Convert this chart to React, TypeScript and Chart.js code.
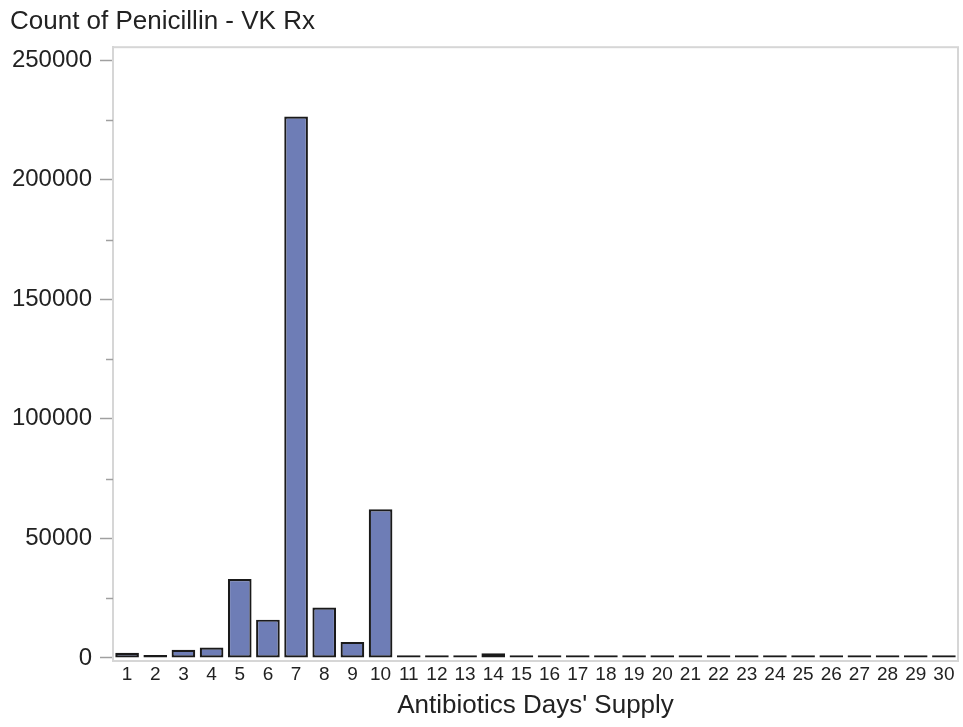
import React, { useEffect, useRef } from "react";
import { Chart, registerables } from "chart.js";

Chart.register(...registerables);

const categories = Array.from({ length: 30 }, (_, i) => String(i + 1));
const rxCounts = [
  2100, 1200, 3400, 4300, 33000, 16000, 226500, 21100, 6700, 62200,
  1100, 1100, 1100, 1900, 1100, 1100, 1100, 1100, 1100, 1100,
  1100, 1100, 1100, 1100, 1100, 1100, 1100, 1100, 1100, 1100,
];
const yMajorTicks = [0, 50000, 100000, 150000, 200000, 250000];
const yMinorTicks = [25000, 75000, 125000, 175000, 225000];

const FONT = "'Liberation Sans', Arial, sans-serif";

const framePlugin = {
  id: "frame",
  afterDraw(chart: any) {
    const { ctx, chartArea, scales } = chart;
    ctx.save();
    ctx.strokeStyle = "#d6d6d6";
    ctx.lineWidth = 2;
    ctx.strokeRect(chartArea.left, chartArea.top, chartArea.right - chartArea.left, chartArea.bottom - chartArea.top);
    ctx.strokeStyle = "#a0a0a0";
    ctx.lineWidth = 1.5;
    const y = scales.y;
    for (const v of yMinorTicks) {
      const py = Math.round(y.getPixelForValue(v)) + 0.5;
      ctx.beginPath();
      ctx.moveTo(chartArea.left - 7, py);
      ctx.lineTo(chartArea.left, py);
      ctx.stroke();
    }
    ctx.restore();
  },
};

export default function App() {
  const ref = useRef<HTMLCanvasElement>(null);
  useEffect(() => {
    if (!ref.current) return;
    const chart = new Chart(ref.current, {
      type: "bar",
      data: {
        labels: categories,
        datasets: [
          {
            data: rxCounts,
            backgroundColor: "#6e7db6",
            borderColor: "#1a1a1a",
            borderWidth: 2.2,
            borderSkipped: false,
            barPercentage: 0.84,
            categoryPercentage: 1,
          },
        ],
      },
      options: {
        responsive: false,
        animation: false,
        layout: { padding: { left: 10, right: 5, top: 6, bottom: 6 } },
        plugins: {
          legend: { display: false },
          tooltip: { enabled: false },
          title: {
            display: true,
            text: "Count of Penicillin - VK Rx",
            align: "start",
            color: "#222",
            font: { family: FONT, size: 26, weight: "normal" },
            padding: { top: 0, bottom: 10 },
          },
        },
        scales: {
          x: {
            grid: { display: false, drawTicks: false },
            border: { display: false },
            ticks: {
              color: "#222",
              font: { family: FONT, size: 19 },
              padding: 2,
              maxRotation: 0,
              autoSkip: false,
            },
            title: {
              display: true,
              text: "Antibiotics Days' Supply",
              color: "#222",
              font: { family: FONT, size: 26 },
              padding: { top: 2, bottom: 0 },
            },
          },
          y: {
            min: -1300,
            max: 255500,
            afterBuildTicks(scale: any) {
              scale.ticks = yMajorTicks.map((v) => ({ value: v }));
            },
            afterFit(scale: any) {
              scale.width = 103;
            },
            grid: {
              drawOnChartArea: false,
              drawTicks: true,
              tickLength: 13,
              color: "#a0a0a0",
              tickWidth: 1.5,
            },
            border: { display: true, color: "#d0d0d0", width: 2 },
            ticks: {
              color: "#222",
              font: { family: FONT, size: 24 },
              padding: 8,
              callback: (v: any) => String(v),
            },
          },
        },
      },
      plugins: [framePlugin],
    });
    return () => chart.destroy();
  }, []);
  return (
    <div style={{ position: "absolute", left: 0, top: 0, width: 963, height: 727, background: "#fff" }}>
      <canvas ref={ref} width={963} height={727} />
    </div>
  );
}
